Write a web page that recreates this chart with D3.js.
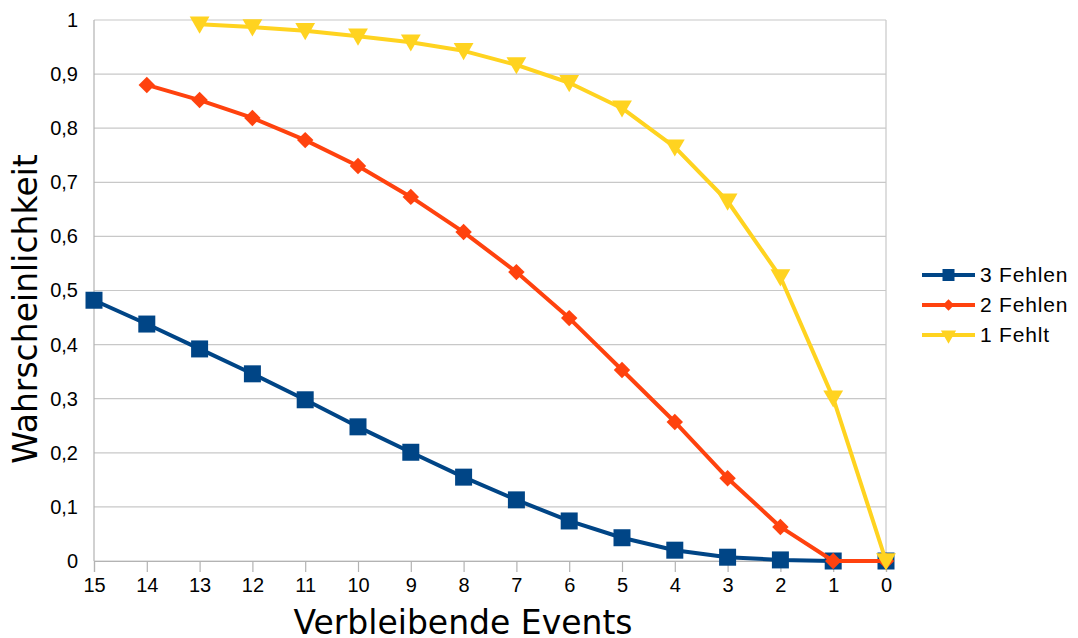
<!DOCTYPE html>
<html>
<head>
<meta charset="utf-8">
<script src="https://d3js.org/d3.v7.min.js"></script>
<style>
  body { margin: 0; background: #fff; }
  svg { font-family: "Liberation Sans", Arial, sans-serif; }
</style>
</head>
<body>
<svg id="chart" width="1078" height="638"></svg>
<script>
// Werte
var events = [15, 14, 13, 12, 11, 10, 9, 8, 7, 6, 5, 4, 3, 2, 1, 0];
var drei = [0.482, 0.438, 0.392, 0.346, 0.298, 0.248, 0.201, 0.155, 0.113, 0.074, 0.043, 0.020, 0.007, 0.002, 0, 0];
var zwei = [null, 0.880, 0.852, 0.819, 0.778, 0.730, 0.673, 0.608, 0.534, 0.449, 0.353, 0.257, 0.153, 0.063, 0, 0];
var eins = [null, null, 0.992, 0.987, 0.980, 0.970, 0.959, 0.943, 0.917, 0.884, 0.837, 0.765, 0.665, 0.525, 0.301, 0];
var yTicks = [0, 0.1, 0.2, 0.3, 0.4, 0.5, 0.6, 0.7, 0.8, 0.9, 1];
var serien = [
  { name: "3 Fehlen", werte: drei, farbe: "#004586", symbol: "square" },
  { name: "2 Fehlen", werte: zwei, farbe: "#ff420e", symbol: "diamond" },
  { name: "1 Fehlt", werte: eins, farbe: "#ffd320", symbol: "triangle" }
];

var svg = d3.select("#chart");
var margin = { top: 20, left: 94 },
    width = 886 - 94,
    height = 561 - 20,
    g = svg.append("g").attr("transform", "translate(" + margin.left + "," + margin.top + ")");

var x = d3.scalePoint().domain(events).range([0, width]);
var y = d3.scaleLinear().domain([0, 1]).range([height, 0]);

// Gitterlinien
g.append("g").selectAll("line")
  .data(yTicks)
  .enter().append("line")
  .attr("x1", 0).attr("x2", width)
  .attr("y1", function(d) { return y(d); })
  .attr("y2", function(d) { return y(d); })
  .attr("stroke", "#c8c8c8").attr("stroke-width", 1.2);

// Rahmen links und rechts
g.append("line").attr("x1", 0).attr("x2", 0).attr("y1", 0).attr("y2", height)
  .attr("stroke", "#b3b3b3").attr("stroke-width", 1.2);
g.append("line").attr("x1", width).attr("x2", width).attr("y1", 0).attr("y2", height)
  .attr("stroke", "#c8c8c8").attr("stroke-width", 1.2);

// x-Achse
var xAxis = g.append("g")
  .attr("transform", "translate(0," + height + ")")
  .call(d3.axisBottom(x).tickSize(11).tickPadding(6));
xAxis.select(".domain").attr("stroke", "#b3b3b3").attr("stroke-width", 1.2);
xAxis.selectAll(".tick line").attr("stroke", "#b3b3b3").attr("stroke-width", 1.2);
xAxis.selectAll(".tick text").attr("fill", "#000").style("font-size", "20px")
  .style("font-family", "Liberation Sans, Arial, sans-serif");

// y-Achse
var yAxis = g.append("g")
  .call(d3.axisLeft(y).tickValues(yTicks).tickSize(0).tickPadding(16)
    .tickFormat(function(d) { return d3.format("")(d).replace(".", ","); }));
yAxis.select(".domain").remove();
yAxis.selectAll(".tick text").attr("fill", "#000").style("font-size", "20px")
  .style("font-family", "Liberation Sans, Arial, sans-serif");

// Linien und Symbole
var line = d3.line()
  .defined(function(d) { return d.v !== null; })
  .x(function(d) { return x(d.e); })
  .y(function(d) { return y(d.v); });

var symbole = {
  square: d3.symbol().type(d3.symbolSquare).size(289),
  diamond: d3.symbol().type(d3.symbolSquare).size(135),
  triangle: d3.symbol().type(d3.symbolTriangle).size(170)
};
function drehung(s) {
  if (s === "triangle") return " rotate(180) translate(0,2)";
  if (s === "diamond") return " rotate(45)";
  return "";
}

serien.forEach(function(s) {
  var pts = events.map(function(e, i) { return { e: e, v: s.werte[i] }; });
  g.append("path").datum(pts)
    .attr("fill", "none").attr("stroke", s.farbe).attr("stroke-width", 4)
    .attr("stroke-linejoin", "round")
    .attr("d", line);
  g.append("g").selectAll("path")
    .data(pts.filter(function(d) { return d.v !== null; }))
    .enter().append("path")
    .attr("d", symbole[s.symbol])
    .attr("fill", s.farbe)
    .attr("transform", function(d) {
      return "translate(" + x(d.e) + "," + y(d.v) + ")" + drehung(s.symbol);
    });
});

// Legende
var legend = svg.append("g").attr("transform", "translate(922,275)");
serien.forEach(function(s, i) {
  var lg = legend.append("g").attr("transform", "translate(0," + (i * 30) + ")");
  lg.append("line").attr("x1", 0).attr("x2", 53).attr("y1", 0).attr("y2", 0)
    .attr("stroke", s.farbe).attr("stroke-width", 4);
  var sym = s.symbol === "square" ? d3.symbol().type(d3.symbolSquare).size(144)
          : s.symbol === "diamond" ? d3.symbol().type(d3.symbolSquare).size(64)
          : d3.symbol().type(d3.symbolTriangle).size(100);
  lg.append("path").attr("d", sym).attr("fill", s.farbe)
    .attr("transform", "translate(26.5,0)" + drehung(s.symbol).replace(" translate(0,2)", ""));
  lg.append("text").attr("x", 58).attr("y", 0).attr("dy", "0.35em")
    .style("font-size", "21px").style("letter-spacing", "0.8px")
    .attr("fill", "#000").text(s.name);
});

// Achsentitel
svg.append("text")
  .attr("transform", "translate(37,309) rotate(-90)")
  .attr("text-anchor", "middle")
  .style("font-family", "DejaVu Sans, sans-serif")
  .style("font-size", "33px").attr("fill", "#000")
  .text("Wahrscheinlichkeit");
svg.append("text")
  .attr("x", 463).attr("y", 634)
  .attr("text-anchor", "middle")
  .style("font-family", "DejaVu Sans, sans-serif")
  .style("font-size", "33px").attr("fill", "#000")
  .text("Verbleibende Events");
</script>
</body>
</html>
